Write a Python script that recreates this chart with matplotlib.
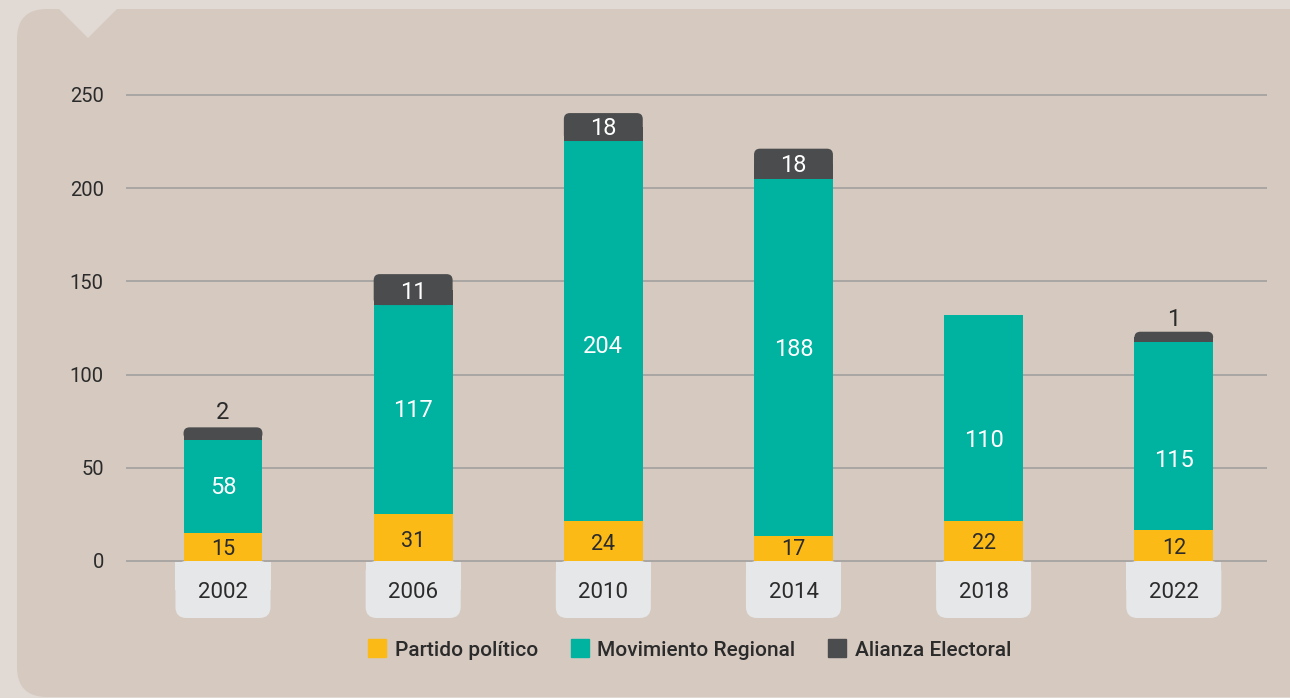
import matplotlib.pyplot as plt
from matplotlib.patches import FancyBboxPatch, Rectangle, Polygon
from matplotlib.lines import Line2D

# Data
years = ["2002", "2006", "2010", "2014", "2018", "2022"]
partido_lbl = [15, 31, 24, 17, 22, 12]
movimiento_lbl = [58, 117, 204, 188, 110, 115]
alianza_lbl = [2, 11, 18, 18, 0, 1]
# drawn segment heights as they appear against the axis
partido_h = [15.2, 25.2, 21.6, 13.6, 21.6, 16.6]
movimiento_h = [49.8, 112.1, 203.7, 191.5, 110.5, 101.0]
alianza_h = [6.7, 16.6, 15.0, 16.1, 0.0, 5.4]
# where the value labels sit (axis units)
partido_lbl_y = [7.0, 11.3, 9.7, 7.0, 10.2, 7.5]
movimiento_lbl_y = [40.3, 81.5, 116.0, 114.5, 65.5, 55.0]
alianza_lbl_y = [80.5, 144.8, 232.8, 213.0, None, 130.4]

c_yellow = "#FBBA16"
c_green = "#00B2A0"
c_dark = "#4B4C4E"
c_tab = "#E6E7E9"
c_panel = "#D6C9C0"
c_outer = "#E0D9D4"
c_text = "#2B2B2B"

plt.rcParams["font.family"] = ["Roboto", "DejaVu Sans"]

W, H = 1290, 698
fig = plt.figure(figsize=(W / 100, H / 100), dpi=100)
fig.patch.set_facecolor(c_outer)

# background panel in pixel coordinates
bg = fig.add_axes([0, 0, 1, 1], zorder=0)
bg.set_xlim(0, W)
bg.set_ylim(H, 0)
bg.axis("off")
bg.add_patch(FancyBboxPatch((17, 9), W - 17 + 40, H - 9 - 1,
                            boxstyle="round,pad=0,rounding_size=30",
                            fc=c_panel, ec="none"))
bg.add_patch(Polygon([(58, 8), (118, 8), (88, 38)], closed=True, fc=c_outer, ec="none"))

# main axes: y=0 at px 561, y=250 at px 95
ppu = (561 - 95) / 250
ylo, yhi = -40, 260
bot_px = 561 - ylo * ppu
top_px = 95 - (yhi - 250) * ppu
ax = fig.add_axes([126 / W, (H - bot_px) / H, 1141 / W, (bot_px - top_px) / H], zorder=1)
ax.set_xlim(-0.51, 5.49)
ax.set_ylim(ylo, yhi)
ax.patch.set_alpha(0)
for s in ax.spines.values():
    s.set_visible(False)
ax.set_xticks([])
ax.set_yticks(range(0, 251, 50))
ax.tick_params(axis="y", length=0, pad=16, labelsize=14.5, labelcolor=c_text)
for v in range(0, 251, 50):
    ax.axhline(v, color="#A8A6A4", lw=1.4, zorder=1)

x = list(range(len(years)))
bw = 0.415
xppu = 1141 / 6.0
aspect = (1 / ppu) / (1 / xppu)

ax.bar(x, partido_h, width=bw, color=c_yellow, zorder=2)
ax.bar(x, movimiento_h, width=bw, bottom=partido_h, color=c_green, zorder=2)
base2 = [a + b for a, b in zip(partido_h, movimiento_h)]
dark = ax.bar(x, alianza_h, width=bw, bottom=base2, color=c_dark, zorder=2)

# round the top of the dark caps
r = 6 / xppu
for rect in dark:
    h = rect.get_height()
    if h <= 0:
        continue
    x0, y0, w = rect.get_x(), rect.get_y(), rect.get_width()
    rect.remove()
    ax.add_patch(FancyBboxPatch((x0, y0), w, h, boxstyle=f"round,pad=0,rounding_size={r}",
                                mutation_aspect=aspect, fc=c_dark, ec="none", zorder=2))
    ax.add_patch(Rectangle((x0, y0), w, h / 2, fc=c_dark, ec="none", zorder=2))

# year tabs below the baseline
tab_w = 0.5
tab_h = 57 / ppu
rt = 11 / xppu
for i, yr in enumerate(years):
    ax.add_patch(FancyBboxPatch((i - tab_w / 2, -tab_h), tab_w, tab_h,
                                boxstyle=f"round,pad=0,rounding_size={rt}",
                                mutation_aspect=aspect, fc=c_tab, ec="none", zorder=1.5))
    ax.add_patch(Rectangle((i - tab_w / 2, -tab_h / 2), tab_w, tab_h / 2 - 0.8,
                           fc=c_tab, ec="none", zorder=1.5))
    ax.text(i, -tab_h / 2 - 1.5, yr, ha="center", va="center", fontsize=16,
            color=c_text, zorder=3)

# value labels
for i in x:
    ax.text(i, partido_lbl_y[i] - 1, str(partido_lbl[i]), ha="center", va="center",
            fontsize=15.5, color=c_text, zorder=3)
    ax.text(i, movimiento_lbl_y[i] - 1, str(movimiento_lbl[i]), ha="center",
            va="center", fontsize=17, color="white", zorder=3)
    if alianza_lbl_y[i] is None:
        continue
    inside = alianza_h[i] >= 12
    ax.text(i, alianza_lbl_y[i] - 1, str(alianza_lbl[i]), ha="center", va="center",
            fontsize=17, color="white" if inside else c_text, zorder=3)

handles = [Line2D([], [], ls="none", marker="s", ms=13.5, mfc=c, mec=c)
           for c in (c_yellow, c_green, c_dark)]
fig.legend(handles, ["Partido político", "Movimiento Regional", "Alianza Electoral"],
           loc="center", bbox_to_anchor=(689 / W, (H - 650) / H), ncol=3, frameon=False,
           handletextpad=0.35, columnspacing=1.5, handlelength=1.0,
           prop={"size": 15, "weight": "medium"}, labelcolor=c_text)

fig.savefig("out.png", dpi=100, facecolor=fig.get_facecolor())
